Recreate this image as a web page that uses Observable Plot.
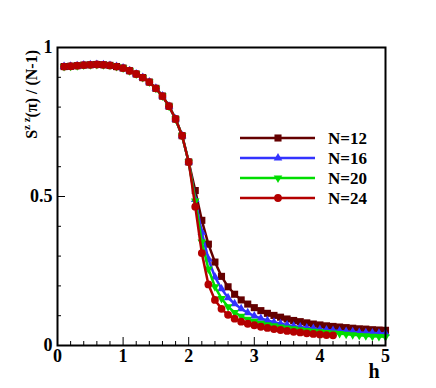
<!DOCTYPE html>
<html><head><meta charset="utf-8">
<script src="https://cdn.jsdelivr.net/npm/d3@7"></script>
<script src="https://cdn.jsdelivr.net/npm/@observablehq/plot@0.6"></script>
<style>html,body{margin:0;padding:0;background:#fff}
svg text{font-family:"Liberation Serif","DejaVu Serif","Times New Roman",serif !important;font-weight:bold}</style>
</head><body><div id="chart"></div>
<script>
// field values h
const hVals = [0.1,0.2,0.3,0.4,0.5,0.6,0.7,0.8,0.9,1.0,1.1,1.2,1.3,1.4,1.5,1.6,1.7,1.8,1.9,2.0,
  2.1,2.2,2.3,2.4,2.5,2.6,2.7,2.8,2.9,3.0,3.1,3.2,3.3,3.4,3.5,3.6,3.7,3.8,3.9,4.0,
  4.1,4.2,4.3,4.4,4.5,4.6,4.7,4.8,4.9,5.0];
// common (overlapping) part for h = 0.1 .. 2.0
const shared = [0.936,0.937,0.939,0.941,0.942,0.943,0.942,0.940,0.936,0.931,0.922,0.911,0.899,0.884,0.863,0.837,0.803,0.760,0.704,0.616];
// tails for h = 2.1 ..
const tail12 = [0.520,0.420,0.340,0.280,0.232,0.197,0.172,0.153,0.139,0.127,0.117,0.108,0.101,0.095,0.089,0.084,0.080,0.076,0.072,0.069,0.066,0.064,0.062,0.060,0.058,0.056,0.055,0.053,0.052,0.051];
const tail16 = [0.490,0.380,0.290,0.230,0.190,0.160,0.140,0.123,0.110,0.099,0.091,0.084,0.078,0.073,0.069,0.065,0.062,0.059,0.057,0.054,0.052,0.050,0.049,0.047,0.046,0.044,0.043,0.042,0.041,0.040];
const tail20 = [0.485,0.347,0.257,0.197,0.158,0.130,0.111,0.098,0.088,0.081,0.075,0.070,0.066,0.062,0.059,0.056,0.053,0.050,0.048,0.046,0.044,0.042,0.040,0.038,0.036,0.034,0.033,0.031,0.030,0.029];
const tail24 = [0.466,0.310,0.205,0.153,0.123,0.103,0.090,0.080,0.073,0.068,0.063,0.059,0.055,0.052,0.049,0.046,0.044,0.041,0.039,0.037,0.035,0.034];

const seriesNames = ["N=12","N=16","N=20","N=24"];
const seriesTails = [tail12, tail16, tail20, tail24];
const seriesColors = ["#640000","#3333ff","#00dd00","#b40000"];
const seriesSymbols = ["square","triangle","triangle","circle"];
const seriesRotate = [0,0,180,0];
const seriesR = [4,3.2,3.2,3.9];

const xMajor = [0,1,2,3,4,5];
const xMinor = [0.2,0.4,0.6,0.8,1.2,1.4,1.6,1.8,2.2,2.4,2.6,2.8,3.2,3.4,3.6,3.8,4.2,4.4,4.6,4.8];
const yMajor = [0,0.5,1];
const yMinor = [0.1,0.2,0.3,0.4,0.6,0.7,0.8,0.9];

const series = seriesNames.map((name, k) => {
  const vals = shared.concat(seriesTails[k]);
  return vals.map((v, i) => ({h: hVals[i], v, name}));
});

const font = "Liberation Serif, DejaVu Serif, serif";
const marks = [];
series.forEach((rows, k) => {
  marks.push(Plot.line(rows, {x: "h", y: "v", stroke: seriesColors[k], strokeWidth: 2.5}));
  marks.push(Plot.dot(rows, {x: "h", y: "v", symbol: seriesSymbols[k], fill: seriesColors[k], r: seriesR[k], rotate: seriesRotate[k]}));
});

const plot = Plot.plot({
  width: 436, height: 388,
  marginLeft: 57, marginRight: 51, marginTop: 47, marginBottom: 43,
  x: {domain: [0, 5]},
  y: {domain: [0, 1]},
  style: {fontFamily: font, fontSize: "18px", fontWeight: "bold", color: "black", background: "white"},
  marks: [
    Plot.axisX(xMinor, {tickSize: -4, tickFormat: () => "", label: null}),
    Plot.axisX(xMajor, {tickSize: -8, tickFormat: () => "", label: null}),
    Plot.axisX(xMajor, {tickSize: 0, tickPadding: 4, tickFormat: d => String(d), label: null}),
    Plot.axisY(yMinor, {tickSize: -4, tickFormat: () => "", label: null}),
    Plot.axisY(yMajor, {tickSize: -8, tickFormat: () => "", label: null}),
    Plot.axisY(yMajor, {tickSize: 0, tickPadding: 5, tickFormat: d => String(d), label: null}),
    ...marks,
    Plot.frame({stroke: "black", strokeWidth: 2}),
    Plot.text(["h"], {frameAnchor: "bottom-right", dx: -6, dy: 32, lineAnchor: "bottom", fontSize: 20, fontWeight: "bold"})
  ]
});

const svg = d3.select(plot);
// y axis label with superscript
const yl = svg.append("text")
  .attr("transform", "translate(37,50) rotate(-90)")
  .attr("text-anchor", "end")
  .attr("font-size", 16).attr("fill", "black");
yl.append("tspan").text("S");
yl.append("tspan").attr("font-size", 11).attr("dy", -7).text("z z");
yl.append("tspan").attr("dy", 7).text("(π) / (N-1)");

// legend
const legendY = [138,158,178,198];
const lg = svg.append("g");
seriesNames.forEach((name, k) => {
  const y = legendY[k];
  lg.append("line").attr("x1", 240).attr("x2", 315).attr("y1", y).attr("y2", y)
    .attr("stroke", seriesColors[k]).attr("stroke-width", 2.5);
  const symType = {square: d3.symbolSquare, triangle: d3.symbolTriangle, circle: d3.symbolCircle}[seriesSymbols[k]];
  lg.append("path").attr("d", d3.symbol(symType, Math.PI * seriesR[k] * seriesR[k])())
    .attr("transform", `translate(278,${y}) rotate(${seriesRotate[k]})`).attr("fill", seriesColors[k]);
  lg.append("text").attr("x", 328).attr("y", y).attr("dy", "0.35em")
    .attr("text-anchor", "start")
    .attr("font-size", 17).attr("fill", "black").text(name);
});

document.getElementById("chart").append(plot);
</script>
</body></html>
